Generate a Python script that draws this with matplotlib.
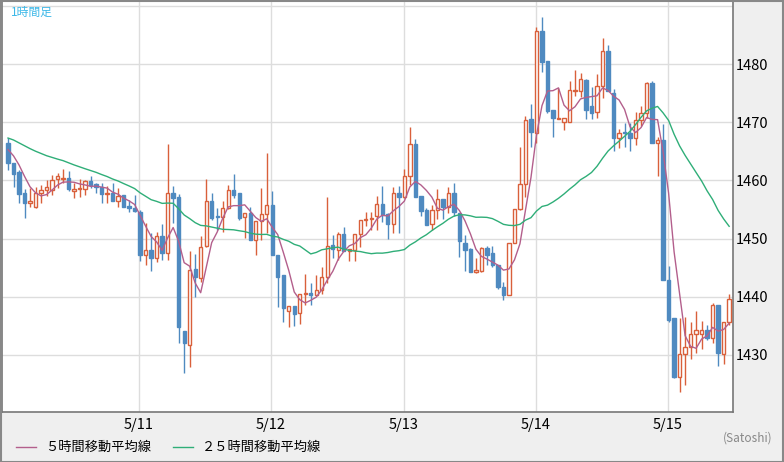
import matplotlib
matplotlib.use("Agg")
import matplotlib.pyplot as plt
import numpy as np
import pandas as pd

opens = [1466.5,1463.0,1461.4,1457.9,1456.2,1455.5,1457.8,1458.3,1458.3,1460.3,1460.3,1460.4,1458.1,1458.5,1458.6,1459.9,1459.4,1458.9,1457.6,1457.9,
         1456.4,1457.5,1455.6,1455.3,1454.6,1447.1,1448.1,1446.6,1450.5,1447.6,1457.8,1457.1,1434.2,1431.7,1444.7,1443.3,1448.7,1456.5,1453.8,1453.7,
         1455.2,1458.4,1457.8,1453.7,1454.4,1449.7,1453.0,1454.2,1455.8,1447.2,1443.8,1437.6,1438.5,1437.2,1440.4,1440.6,1440.3,1441.1,1443.4,1448.9,
         1448.0,1450.8,1447.9,1448.0,1450.8,1453.2,1453.3,1453.8,1456.0,1454.2,1452.5,1457.9,1457.1,1460.7,1466.3,1457.3,1454.9,1452.5,1454.9,1456.8,
         1455.5,1457.8,1454.4,1449.3,1448.2,1444.2,1444.5,1448.3,1447.5,1445.5,1441.6,1440.3,1449.3,1455.0,1459.4,1470.6,1468.1,1485.7,1480.5,1472.1,
         1470.6,1470.1,1470.1,1475.3,1475.4,1477.2,1472.7,1471.8,1476.2,1482.2,1475.1,1467.2,1468.4,1468.1,1467.2,1470.4,1471.5,1476.8,1466.5,1466.9,
         1442.9,1436.3,1426.2,1430.2,1431.3,1433.6,1433.6,1434.3,1432.9,1438.6,1430.2,1435.7]
closes = [1463.0,1461.1,1457.7,1456.2,1456.5,1457.9,1458.4,1458.8,1460.1,1460.8,1460.4,1458.6,1458.5,1458.7,1459.9,1459.2,1458.8,1457.6,1457.9,1456.4,
          1457.4,1455.5,1455.2,1454.8,1447.1,1448.1,1446.6,1450.5,1447.6,1457.8,1457.0,1434.8,1432.1,1444.6,1443.4,1448.6,1456.4,1453.5,1453.7,1455.2,
          1458.4,1457.5,1453.5,1454.4,1449.7,1453.0,1454.2,1455.7,1447.1,1443.4,1438.0,1438.5,1437.1,1440.5,1440.6,1440.3,1441.2,1443.4,1448.8,1448.2,
          1450.8,1447.8,1448.2,1450.8,1453.2,1453.3,1453.5,1456.0,1454.1,1452.5,1457.8,1457.1,1460.7,1466.3,1457.2,1454.8,1452.4,1454.9,1456.8,1455.5,
          1457.8,1454.5,1449.5,1448.1,1444.2,1444.6,1448.3,1447.2,1445.5,1441.6,1440.3,1449.3,1455.0,1459.4,1470.4,1468.4,1485.6,1480.4,1472.0,1470.7,
          1470.8,1470.8,1475.5,1475.5,1477.4,1472.1,1471.5,1476.2,1482.2,1475.3,1467.2,1468.2,1468.1,1467.2,1470.4,1471.5,1476.8,1466.5,1467.0,1442.8,
          1436.0,1426.3,1430.2,1431.3,1433.6,1434.3,1434.3,1432.9,1438.6,1430.4,1435.7,1439.7]
highs = [1467.2,1463.0,1461.8,1458.5,1458.7,1458.9,1459.2,1460.1,1461.0,1461.2,1461.9,1461.7,1459.6,1460.3,1460.1,1460.7,1459.5,1459.6,1459.0,1459.5,
         1458.7,1457.5,1456.6,1457.5,1454.9,1452.6,1450.9,1451.2,1452.5,1466.3,1459.1,1457.7,1434.2,1447.9,1447.4,1450.4,1460.2,1457.9,1455.2,1456.5,
         1459.2,1461.1,1457.8,1454.4,1455.4,1453.0,1458.7,1464.7,1458.2,1447.2,1443.8,1437.6,1438.5,1440.5,1443.9,1442.3,1443.8,1445.2,1457.2,1450.6,
         1451.2,1452.0,1447.9,1450.8,1453.2,1454.6,1454.5,1457.3,1459.0,1454.4,1458.9,1459.1,1461.9,1469.1,1467.1,1457.3,1455.2,1455.8,1458.5,1456.8,
         1458.9,1459.5,1454.4,1450.6,1448.4,1446.6,1448.6,1448.7,1448.7,1445.5,1442.6,1449.3,1455.0,1465.8,1471.1,1473.1,1486.3,1488.0,1480.5,1472.1,
         1475.8,1470.8,1477.0,1478.9,1478.4,1477.5,1476.0,1478.3,1484.4,1483.3,1475.7,1468.8,1469.8,1469.8,1471.8,1472.7,1476.9,1477.1,1467.5,1469.7,
         1445.3,1436.3,1436.3,1436.5,1435.7,1437.5,1435.9,1435.2,1438.9,1438.6,1435.7,1440.5]
lows = [1461.8,1458.9,1456.2,1453.6,1455.5,1455.3,1456.2,1457.3,1457.5,1458.7,1459.6,1458.1,1456.9,1457.2,1457.5,1458.7,1457.9,1456.1,1456.1,1456.4,
        1455.5,1455.4,1454.5,1454.6,1446.1,1445.5,1444.5,1445.9,1446.3,1446.3,1452.6,1432.1,1426.9,1428.0,1439.9,1442.6,1448.6,1453.2,1451.5,1451.2,
        1455.0,1457.0,1453.2,1450.1,1449.7,1447.1,1449.7,1451.0,1447.1,1438.3,1435.7,1434.8,1435.0,1435.3,1438.6,1438.6,1440.3,1440.5,1442.4,1446.6,
        1446.3,1447.8,1446.1,1446.1,1448.6,1452.1,1451.5,1451.4,1452.8,1449.9,1451.0,1451.0,1457.0,1459.2,1457.2,1453.8,1452.4,1451.5,1453.3,1453.3,
        1454.4,1453.8,1446.8,1444.5,1444.2,1444.1,1444.3,1445.5,1445.2,1441.3,1439.5,1440.3,1449.2,1454.9,1457.2,1465.7,1466.5,1478.7,1471.6,1467.4,
        1470.6,1468.6,1470.1,1474.5,1474.3,1470.6,1470.6,1470.7,1474.2,1475.3,1465.1,1465.5,1465.8,1465.1,1466.0,1469.3,1470.8,1466.5,1460.8,1442.8,
        1435.7,1426.0,1423.7,1424.9,1429.3,1430.3,1431.0,1432.6,1432.0,1428.1,1428.4,1435.2]
prior_closes = [1469.5,1470.0,1469.0,1468.5,1469.0,1468.0,1468.5,1467.5,1468.0,1467.0,1468.0,1467.5,
                1467.0,1468.0,1467.0,1466.5,1467.0,1466.5,1467.0,1466.0,1466.5,1465.5,1466.0,1465.5]
date_ticks = [23.8, 47.8, 71.9, 95.9, 119.9]
date_labels = ["5/11", "5/12", "5/13", "5/14", "5/15"]
y_ticks = [1430, 1440, 1450, 1460, 1470, 1480]

plt.rcParams['font.family'] = ['Noto Sans CJK JP', 'DejaVu Sans']
UP = '#d9603b'; DN = '#4f8ac0'; MA5C = '#b35f8c'; MA25C = '#2fae78'

fig = plt.figure(figsize=(7.84, 4.62), dpi=100, facecolor='#efefef')
ax = fig.add_axes([2/784, 50/462, 731/784, 412/462])
ax.set_facecolor('white')

n = len(closes)
x = np.arange(n)
allc = pd.Series(prior_closes + closes)
ma5 = allc.rolling(5).mean().values[len(prior_closes):]
ma25 = allc.rolling(25).mean().values[len(prior_closes):]

for t in y_ticks + [1490]:
    ax.axhline(t, color='#dddddd', lw=1, zorder=0)
for t in date_ticks:
    ax.axvline(t, color='#dddddd', lw=1, zorder=0)

w = 0.6
for i in x:
    o, c, h, l = opens[i], closes[i], highs[i], lows[i]
    col = UP if c >= o else DN
    ax.vlines(i, l, h, color=col, lw=1, zorder=2)
    lo, hi = min(o, c), max(o, c)
    fc = 'white' if c >= o else col
    ax.add_patch(plt.Rectangle((i - w/2, lo), w, max(hi - lo, 0.12), facecolor=fc, edgecolor=col, lw=1, zorder=3))

ax.plot(x, ma5, color=MA5C, lw=1, zorder=4)
ax.plot(x, ma25, color=MA25C, lw=1, zorder=4)

ax.set_xlim(-1.09, 131.7)
ax.set_ylim(1420.2, 1491.0)
ax.yaxis.tick_right()
ax.set_yticks(y_ticks)
ax.set_yticklabels([str(v) for v in y_ticks], fontsize=10.5)
ax.set_xticks(date_ticks)
ax.set_xticklabels(date_labels, fontsize=10.5)
ax.tick_params(length=0, pad=2)
ax.tick_params(axis='x', pad=4)
for s in ax.spines.values():
    s.set_color('#777777'); s.set_linewidth(1.2)
ax.spines['top'].set_visible(False)

ax.text(0.012, 0.985, '1時間足', transform=ax.transAxes, color='#3cb8e8', fontsize=8.5, va='top', ha='left')

fig.add_artist(plt.Line2D([16/784, 36/784], [15/462, 15/462], color=MA5C, lw=1))
fig.text(45/784, 15/462, '５時間移動平均線', fontsize=9.5, va='center', ha='left')
fig.add_artist(plt.Line2D([173/784, 193/784], [15/462, 15/462], color=MA25C, lw=1))
fig.text(202/784, 15/462, '２５時間移動平均線', fontsize=9.5, va='center', ha='left')
fig.text(772/784, 24/462, '(Satoshi)', fontsize=8.5, color='#888888', va='center', ha='right')
fig.add_artist(plt.Rectangle((0.5/784, 0.5/462), 782.5/784, 461/462, transform=fig.transFigure, fill=False, edgecolor='#888888', lw=1.5))

fig.savefig('out.png', dpi=100, facecolor=fig.get_facecolor())
